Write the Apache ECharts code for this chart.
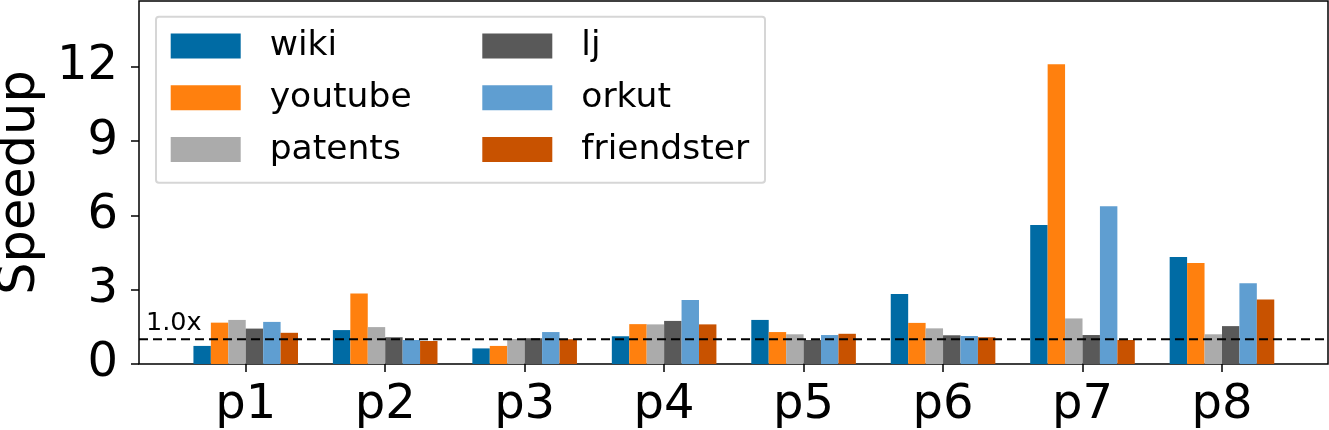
<!DOCTYPE html>
<html>
<head>
<meta charset="utf-8">
<script src="https://cdn.jsdelivr.net/npm/echarts@6/dist/echarts.min.js"></script>
<style>
html,body{margin:0;padding:0;background:#fff;}
#chart{width:1329px;height:430px;}
</style>
</head>
<body>
<div id="chart"></div>
<script>
const categories = ['p1','p2','p3','p4','p5','p6','p7','p8'];
const wiki       = [0.73, 1.37, 0.63, 1.12, 1.78, 2.83, 5.61, 4.32];
const youtube    = [1.67, 2.85, 0.73, 1.61, 1.29, 1.66, 12.11, 4.08];
const patents    = [1.78, 1.49, 1.01, 1.60, 1.20, 1.44, 1.84, 1.20];
const lj         = [1.43, 1.08, 1.04, 1.74, 0.97, 1.16, 1.17, 1.53];
const orkut      = [1.70, 0.97, 1.29, 2.58, 1.17, 1.13, 6.37, 3.26];
const friendster = [1.26, 0.93, 1.00, 1.60, 1.22, 1.08, 0.97, 2.60];
const yTicks = [0, 3, 6, 9, 12];
const yMax = 14.66;
const baseline = 1.0;
const baselineLabel = '1.0x';

const seriesNames = ['wiki','youtube','patents','lj','orkut','friendster'];
const seriesData = [wiki, youtube, patents, lj, orkut, friendster];
const colors = ['#006BA4','#FF800E','#ABABAB','#595959','#5F9ED1','#C85200'];

const FONT = 'DejaVu Sans';
const chart = echarts.init(document.getElementById('chart'), null, {renderer: 'canvas'});

const barSeries = seriesNames.map((name, i) => ({
  name: name,
  type: 'bar',
  xAxisIndex: 1,
  yAxisIndex: 1,
  data: seriesData[i],
  barWidth: '12.5%',
  barGap: '0%',
  itemStyle: {color: colors[i]},
  emphasis: {disabled: true},
  z: 2
}));

const legendCommon = {
  orient: 'vertical',
  icon: 'rect',
  itemWidth: 70,
  itemHeight: 25,
  itemGap: 16.8,
  padding: 0,
  z: 10,
  selectedMode: false,
  textStyle: {fontFamily: FONT, fontSize: 34.5, color: '#000', lineHeight: 26, padding: [0,0,0,24]}
};

const option = {
  animation: false,
  backgroundColor: '#fff',
  textStyle: {fontFamily: FONT},
  color: colors,
  grid: [
    {left: 139, right: 1, top: 1, bottom: 66, show: true, borderColor: '#000', borderWidth: 1.5, backgroundColor: 'transparent', outerBoundsMode: 'none', containLabel: false},
    {left: 176, right: 37.3, top: 1, bottom: 66, show: false, outerBoundsMode: 'none', containLabel: false}
  ],
  xAxis: [
    {type: 'value', gridIndex: 0, min: 0, max: 1, show: false},
    {type: 'category', gridIndex: 1, data: categories, boundaryGap: true,
     axisLine: {show: false},
     axisTick: {show: true, alignWithLabel: true, length: 8, lineStyle: {color: '#000', width: 1.5}},
     axisLabel: {show: true, margin: 18, fontSize: 48, color: '#000', fontFamily: FONT, interval: 0},
     splitLine: {show: false}}
  ],
  yAxis: [
    {type: 'value', gridIndex: 0, min: 0, max: yMax,
     name: 'Speedup', nameLocation: 'middle', nameGap: 86,
     nameTextStyle: {fontSize: 51, color: '#000', fontFamily: FONT},
     axisLine: {show: false},
     axisTick: {show: true, length: 8, customValues: yTicks, lineStyle: {color: '#000', width: 1.5}},
     axisLabel: {show: true, margin: 21, fontSize: 48, color: '#000', fontFamily: FONT, customValues: yTicks},
     splitLine: {show: false}},
    {type: 'value', gridIndex: 1, min: 0, max: yMax, show: false, splitLine: {show: false}}
  ],
  legend: [
    Object.assign({}, legendCommon, {left: 170.7, top: 28.5, data: seriesNames.slice(0,3)}),
    Object.assign({}, legendCommon, {left: 482.3, top: 28.5, data: seriesNames.slice(3,6)})
  ],
  graphic: [
    {type: 'rect', z: 3, shape: {x: 156, y: 16.7, width: 609, height: 166, r: 3},
     style: {fill: 'rgba(255,255,255,0.8)', stroke: '#d6d6d6', lineWidth: 2}},
    {type: 'text', z: 6, x: 146, y: 323,
     style: {text: baselineLabel, font: '25.5px "DejaVu Sans"', fill: '#000', verticalAlign: 'middle', align: 'left'}}
  ],
  series: barSeries.concat([
    {type: 'line', xAxisIndex: 0, yAxisIndex: 0, data: [[0, baseline], [1, baseline]],
     symbol: 'none', silent: true, z: 5,
     lineStyle: {color: '#000', width: 2, type: [9, 5]}}
  ])
};
chart.setOption(option);
</script>
</body>
</html>
